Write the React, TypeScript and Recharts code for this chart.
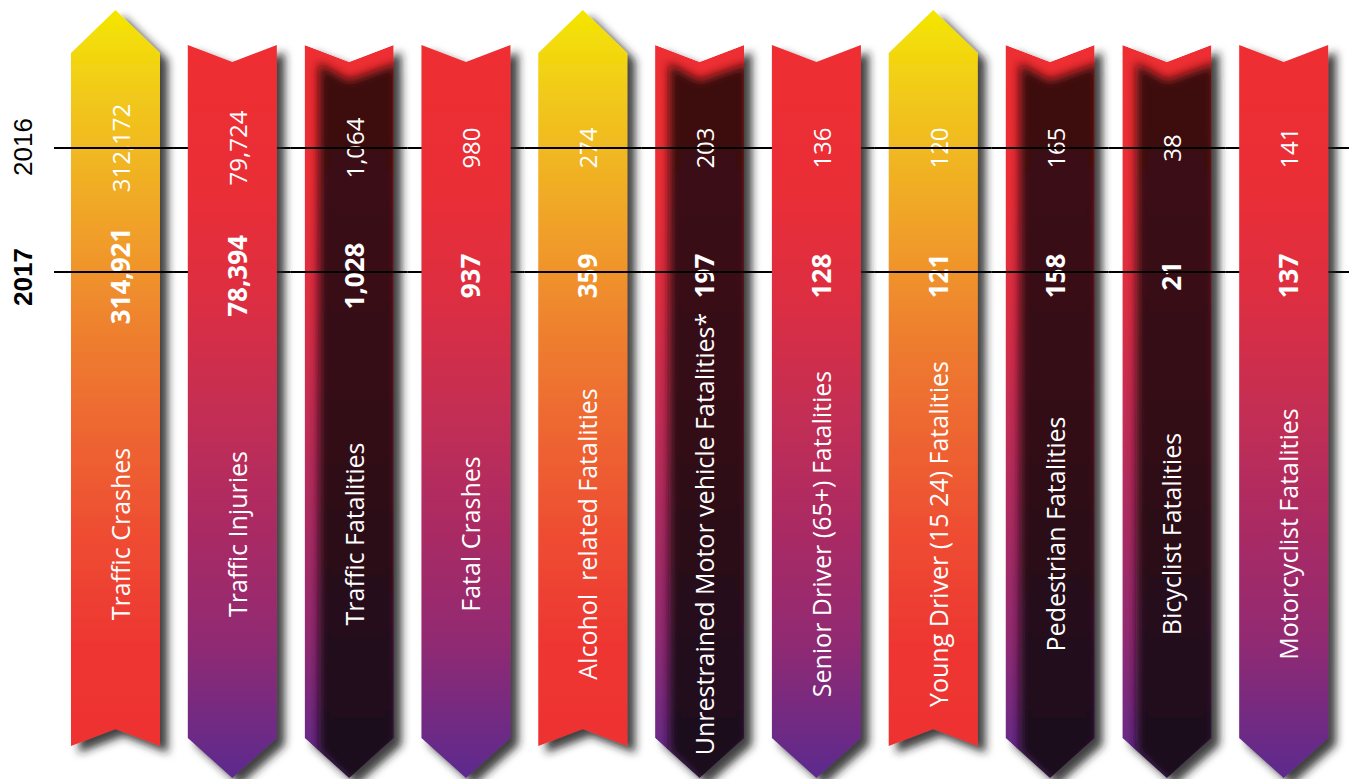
import React from "react";
import { BarChart, Bar, XAxis, YAxis } from "recharts";

// ---------- data ----------
const categories = [
  "Traffic Crashes",
  "Traffic Injuries",
  "Traffic Fatalities",
  "Fatal Crashes",
  "Alcohol  related Fatalities",
  "Unrestrained Motor vehicle Fatalities*",
  "Senior Driver (65+) Fatalities",
  "Young Driver (15 24) Fatalities",
  "Pedestrian Fatalities",
  "Bicyclist Fatalities",
  "Motorcyclist Fatalities",
];
const values2016 = [312172, 79724, 1064, 980, 274, 203, 136, 120, 165, 38, 141];
const values2017 = [314921, 78394, 1028, 937, 359, 197, 128, 121, 158, 21, 137];
const bannerKinds = [
  "sunrise", "ember", "shade", "ember", "sunrise", "shade",
  "ember", "sunrise", "shade", "shade", "ember",
];
const years = ["2016", "2017"];
const yearLevels = [82.03, 65.89];
const bannerSpan = 100;

const data = categories.map((c, i) => ({
  category: c,
  v2016: values2016[i],
  v2017: values2017[i],
  kind: bannerKinds[i],
  span: bannerSpan,
}));

// ---------- layout ----------
const W = 1349;
const H = 779;
const Y_AXIS_W = 54;
const PAD_L = 3;
const PAD_R = 7;
const BAR_W = 89;
const BAND = (W - Y_AXIS_W - PAD_L - PAD_R) / categories.length;
const FONT = "'Open Sans', 'Noto Sans', sans-serif";
const fmt = (v: number) => v.toLocaleString("en-US");

function Banner(props: any) {
  const { x, y, width: w, height: h, index, payload } = props;
  const k = h / 768;
  const kind = payload.kind;
  const cx = x + w / 2;
  const Y = (r: number) => y + r * k;

  const pts: number[][] =
    kind === "sunrise"
      ? [[x, Y(43)], [cx, Y(0)], [x + w, Y(43)], [x + w, Y(736)], [cx, Y(719)], [x, Y(736)]]
      : [[x, Y(35)], [cx, Y(52)], [x + w, Y(35)], [x + w, Y(728)], [cx, Y(768)], [x, Y(728)]];
  const poly = pts.map((p) => p.join(",")).join(" ");
  const inner = [
    [x + 14, Y(53)], [cx, Y(70)], [x + w + 4, Y(53)],
    [x + w + 4, Y(732)], [cx + 4, Y(775)], [x + 14, Y(742)],
  ].map((p) => p.join(",")).join(" ");

  const rowY = yearLevels.map((l) => y + h * (1 - l / bannerSpan));
  const gapHalf = (BAND - w) / 2;
  const segL = index === 0 ? Y_AXIS_W : x - gapHalf;
  const segR = index === categories.length - 1 ? W : x + w + gapHalf;
  const lines = rowY.map((ry, i) => (
    <line key={"l" + i} x1={segL} x2={segR} y1={ry} y2={ry} stroke="#000" strokeWidth={2} />
  ));

  const tx = cx + 14.5;
  const rot = (ty: number, content: any, style: any, key: string) => (
    <text
      key={key}
      x={tx}
      y={ty}
      transform={`rotate(-90 ${tx} ${ty})`}
      textAnchor="middle"
      fill="#ffffff"
      style={{ fontFamily: FONT, whiteSpace: "pre", ...style }}
    >
      {content}
    </text>
  );
  const texts = [
    rot(rowY[0], fmt(payload.v2016), { fontSize: 24, fontWeight: 400 }, "t16"),
    rot(rowY[1] + 4, fmt(payload.v2017), { fontSize: 26, fontWeight: 700 }, "t17"),
    rot(Y(524), payload.category, { fontSize: 25, fontWeight: 400 }, "tc"),
  ];
  const clipId = `bclip${index}`;

  let body;
  if (kind === "shade") {
    body = (
      <g filter="url(#bshadow)">
        <g clipPath={`url(#${clipId})`}>
          <polygon points={poly} fill="url(#gEmber)" />
          <polygon points={inner} fill="url(#gShade)" filter="url(#bsoft)" />
        </g>
      </g>
    );
  } else {
    body = (
      <g filter="url(#bshadow)">
        <polygon points={poly} fill={kind === "sunrise" ? "url(#gSunrise)" : "url(#gEmber)"} />
      </g>
    );
  }

  return (
    <g>
      <defs>
        <clipPath id={clipId}>
          <polygon points={poly} />
        </clipPath>
      </defs>
      {kind === "ember" ? lines : null}
      {body}
      {texts}
      {kind !== "ember" ? lines : null}
    </g>
  );
}

function YearTick(props: any) {
  const { y, payload } = props;
  const i = yearLevels.indexOf(payload.value);
  const bold = i === 1;
  const ty = y + (bold ? 5 : -1);
  const tx = 32;
  return (
    <text
      x={tx}
      y={ty}
      transform={`rotate(-90 ${tx} ${ty})`}
      textAnchor="middle"
      fill="#000"
      style={{ fontFamily: "'Liberation Sans', Arial, sans-serif", fontSize: 26, fontWeight: bold ? 700 : 400 }}
    >
      {years[i]}
    </text>
  );
}

export default function App() {
  return (
    <div style={{ position: "absolute", left: 0, top: 0, width: W, height: H, background: "#fff" }}>
      <BarChart
        width={W}
        height={H}
        data={data}
        margin={{ top: 10, right: 0, bottom: 1, left: 0 }}
        barSize={BAR_W}
      >
        <defs>
          <linearGradient id="gSunrise" x1="0" y1="0" x2="0" y2="1">
            <stop offset="0" stopColor="#f4e600" />
            <stop offset="0.12" stopColor="#f1c81c" />
            <stop offset="0.33" stopColor="#f0992b" />
            <stop offset="0.44" stopColor="#ee7f2f" />
            <stop offset="0.56" stopColor="#ee6830" />
            <stop offset="0.71" stopColor="#ee4d31" />
            <stop offset="0.86" stopColor="#ee3632" />
            <stop offset="1" stopColor="#ee3232" />
          </linearGradient>
          <linearGradient id="gEmber" x1="0" y1="0" x2="0" y2="1">
            <stop offset="0" stopColor="#ee2e31" />
            <stop offset="0.2" stopColor="#ea2e36" />
            <stop offset="0.35" stopColor="#dc2e42" />
            <stop offset="0.51" stopColor="#c22d55" />
            <stop offset="0.81" stopColor="#922b72" />
            <stop offset="1" stopColor="#5c2a8e" />
          </linearGradient>
          <linearGradient id="gShade" x1="0" y1="0" x2="0" y2="1">
            <stop offset="0" stopColor="#3e0d10" />
            <stop offset="0.45" stopColor="#340c15" />
            <stop offset="1" stopColor="#1b0a1e" />
          </linearGradient>
          <filter id="bshadow" x="-30%" y="-10%" width="170%" height="125%">
            <feDropShadow dx="8" dy="7" stdDeviation="4" floodColor="#1a1a1a" floodOpacity="0.85" />
          </filter>
          <filter id="bsoft" x="-30%" y="-10%" width="160%" height="120%">
            <feGaussianBlur stdDeviation="5" />
          </filter>
        </defs>
        <XAxis dataKey="category" hide padding={{ left: PAD_L, right: PAD_R }} />
        <YAxis
          type="number"
          domain={[0, bannerSpan]}
          width={Y_AXIS_W}
          ticks={yearLevels}
          interval={0}
          axisLine={false}
          tickLine={false}
          tick={(p: any) => <YearTick {...p} />}
        />
        <Bar dataKey="span" isAnimationActive={false} shape={(p: any) => <Banner {...p} />} />
      </BarChart>
    </div>
  );
}
